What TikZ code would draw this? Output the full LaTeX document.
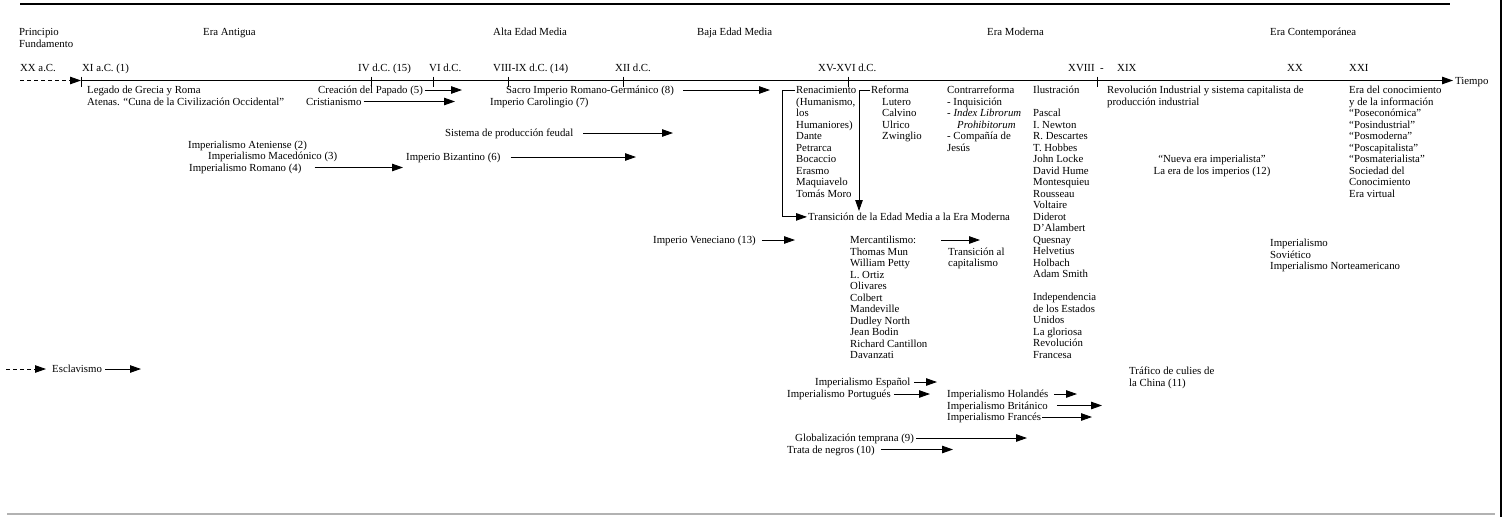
\documentclass[tikz,border=0pt]{standalone}
\usepackage{fontspec}
\setmainfont{Liberation Serif}
\usetikzlibrary{arrows.meta}
\newcommand{\fsz}{\fontsize{10.8}{11.5}\selectfont}
\begin{document}
\begin{tikzpicture}[x=1pt,y=-1pt,
  lbl/.style={anchor=base west, inner sep=0pt, font=\fsz},
  col/.style={anchor=north west, inner sep=0pt, align=left, font=\fsz},
  arr/.style={-{Triangle[length=11pt,width=7.5pt]}, line width=0.9pt},
  dsh/.style={arr, dash pattern=on 4pt off 3pt},
  tickmark/.style={line width=0.9pt}]
\useasboundingbox (0,0) rectangle (1504,517);
% frame lines
\draw[line width=1.4pt] (20,4) -- (1450,4);
\draw[line width=1.2pt] (1501,0) -- (1501,517);
\draw[line width=2pt, black!30] (7,514) -- (1495,514);

% eras
\node[col] (princ) at (19,27.55) {\strut Principio\\Fundamento};
\node[lbl] (eraAnt) at (203,35.6) {Era Antigua};
\node[lbl] (alta) at (493,35.6) {Alta Edad Media};
\node[lbl] (baja) at (697,35.6) {Baja Edad Media};
\node[lbl] (moder) at (987,35.6) {Era Moderna};
\node[lbl] (contemp) at (1270,35.6) {Era Contemporánea};

% dates
\node[lbl] (dXX) at (20,71.6) {XX a.C.};
\node[lbl] (dXI) at (82,71.6) {XI a.C. (1)};
\node[lbl] (dIV) at (358,71.6) {IV d.C. (15)};
\node[lbl] (dVI) at (429,71.6) {VI d.C.};
\node[lbl] (dVIII) at (493,71.6) {VIII-IX d.C. (14)};
\node[lbl] (dXII) at (615,71.6) {XII d.C.};
\node[lbl] (dXV) at (818,71.6) {XV-XVI d.C.};
\node[lbl] (dXVIII) at (1068,71.6) {XVIII};
\node[lbl] (dhyph) at (1100,71.6) {-};
\node[lbl] (dXIX) at (1117,71.6) {XIX};
\node[lbl] (dXXc) at (1287,71.6) {XX};
\node[lbl] (dXXI) at (1349,71.6) {XXI};

% timeline
\coordinate (ds) at (20,80.5);
\coordinate (t0) at (81,80.5);
\node[lbl] (tiempo) at (1455,84.5) {Tiempo};
\draw[dsh] (ds) -- (t0);
\draw[arr, line width=1pt, shorten >=2pt] (t0) -- (t0 -| tiempo.west);
\foreach \x in {81,371,433,508,623,848,1097}
  \draw[tickmark] (\x,76.5) -- (\x,87);

% left items
\node[col] (legado) at (87,85.55) {\strut Legado de Grecia y Roma\\Atenas. “Cuna de la Civilización Occidental”};
\node[lbl] (papado) at (318,93.6) {Creación del Papado (5)};
\coordinate (papadoE) at (462,90);
\draw[arr, shorten <=1.5pt] (papado.east |- papadoE) -- (papadoE);
\node[lbl] (crist) at (306,105.1) {Cristianismo};
\coordinate (cristE) at (455,101.5);
\draw[arr, shorten <=2pt] (crist.east |- cristE) -- (cristE);
\node[lbl] (sacro) at (506,93.6) {Sacro Imperio Romano-Germánico (8)};
\coordinate (sacroE) at (770,90);
\draw[arr, shorten <=9pt] (sacro.east |- sacroE) -- (sacroE);
\node[lbl] (carol) at (490,105.1) {Imperio Carolingio (7)};
\node[lbl] (feudal) at (445,136.6) {Sistema de producción feudal};
\coordinate (feudalE) at (673,133);
\draw[arr, shorten <=10pt] (feudal.east |- feudalE) -- (feudalE);
\node[lbl] (aten) at (188,148.1) {Imperialismo Ateniense (2)};
\node[lbl] (maced) at (208,159.6) {Imperialismo Macedónico (3)};
\node[lbl] (romano) at (189,171.1) {Imperialismo Romano (4)};
\coordinate (romanoE) at (403,167.5);
\draw[arr, shorten <=13pt] (romano.east |- romanoE) -- (romanoE);
\node[lbl] (bizan) at (406,160.6) {Imperio Bizantino (6)};
\coordinate (bizanE) at (636,157);
\draw[arr, shorten <=10pt] (bizan.east |- bizanE) -- (bizanE);

% Renacimiento / Reforma
\node[col] (ren) at (796,85.55) {\strut Renacimiento\\(Humanismo,\\los\\Humaniores)\\Dante\\Petrarca\\Bocaccio\\Erasmo\\Maquiavelo\\Tomás Moro};
\node[lbl] (trans) at (808,220.6) {Transición de la Edad Media a la Era Moderna};
\draw[arr, shorten >=1pt] ([xshift=-1pt,yshift=-4.45pt]ren.north west) -- ++(-13,0) |- (trans.west);
\node[col] (ref) at (871,85.55) {\strut Reforma\\\hspace*{11pt}Lutero\\\hspace*{11pt}Calvino\\\hspace*{11pt}Ulrico\\\hspace*{11pt}Zwinglio};
\coordinate (refE) at (859,211);
\draw[arr] ([xshift=-1pt,yshift=-4.45pt]ref.north west) -| (refE);
\node[col] (contra) at (947,85.55) {\strut Contrarreforma\\- Inquisición\\- \textit{Index Librorum}\\\hspace*{10pt}\textit{Prohibitorum}\\- Compañía de\\Jesús};
\node[col] (ilus) at (1033,85.55) {\strut Ilustración\\\mbox{}\\Pascal\\I. Newton\\R. Descartes\\T. Hobbes\\John Locke\\David Hume\\Montesquieu\\Rousseau\\Voltaire\\Diderot\\D’Alambert\\Quesnay\\Helvetius\\Holbach\\Adam Smith\\\mbox{}\\Independencia\\de los Estados\\Unidos\\La gloriosa\\Revolución\\Francesa};

% Veneciano / Mercantilismo
\node[lbl] (venec) at (653,243.6) {Imperio Veneciano (13)};
\coordinate (venecE) at (795,240);
\draw[arr, shorten <=6pt] (venec.east |- venecE) -- (venecE);
\node[col] (merc) at (850,235.55) {\strut Mercantilismo:\\Thomas Mun\\William Petty\\L. Ortiz\\Olivares\\Colbert\\Mandeville\\Dudley North\\Jean Bodin\\Richard Cantillon\\Davanzati};
\coordinate (mercA) at (941,240);
\coordinate (mercB) at (980,240);
\draw[arr] (mercA) -- (mercB);
\node[col] (transcap) at (948,247.05) {\strut Transición al\\capitalismo};

% bottom imperialisms
\node[lbl] (esp) at (815,385.6) {Imperialismo Español};
\coordinate (espE) at (937,382);
\draw[arr, shorten <=4pt] (esp.east |- espE) -- (espE);
\node[lbl] (port) at (787,397.6) {Imperialismo Portugués};
\coordinate (portE) at (930,394);
\draw[arr, shorten <=3pt] (port.east |- portE) -- (portE);
\node[lbl] (hol) at (947,397.6) {Imperialismo Holandés};
\coordinate (holE) at (1077,394);
\draw[arr, shorten <=6pt] (hol.east |- holE) -- (holE);
\node[lbl] (brit) at (947,409.1) {Imperialismo Británico};
\coordinate (britE) at (1102,405.5);
\draw[arr, shorten <=9pt] (brit.east |- britE) -- (britE);
\node[lbl] (fran) at (947,420.6) {Imperialismo Francés};
\coordinate (franE) at (1092,417);
\draw[arr, shorten <=1pt] (fran.east |- franE) -- (franE);
\node[lbl] (glob) at (795,441.6) {Globalización temprana (9)};
\coordinate (globE) at (1027,438);
\draw[arr, shorten <=2pt] (glob.east |- globE) -- (globE);
\node[lbl] (trata) at (787,453.1) {Trata de negros (10)};
\coordinate (trataE) at (953,449.5);
\draw[arr, shorten <=6pt] (trata.east |- trataE) -- (trataE);

% right side
\node[col] (revind) at (1107,85.55) {\strut Revolución Industrial y sistema capitalista de\\producción industrial};
\node[anchor=north, align=center, inner sep=0pt, font=\fsz] (nueva) at (1212,154.55) {\strut “Nueva era imperialista”\\La era de los imperios (12)};
\node[col] (eracon) at (1349,85.55) {\strut Era del conocimiento\\y de la información\\“Poseconómica”\\“Posindustrial”\\“Posmoderna”\\“Poscapitalista”\\“Posmaterialista”\\Sociedad del\\Conocimiento\\Era virtual};
\node[col] (sovi) at (1270,238.55) {\strut Imperialismo\\Soviético\\Imperialismo Norteamericano};
\node[col] (trafico) at (1129,366.55) {\strut Tráfico de culies de\\la China (11)};

% Esclavismo
\node[lbl] (escl) at (52,372.6) {Esclavismo};
\coordinate (esclS) at (6,369);
\coordinate (esclE) at (141,369);
\draw[dsh, shorten >=6pt] (esclS) -- (escl.west |- esclS);
\draw[arr, shorten <=3pt] (escl.east |- esclE) -- (esclE);
\end{tikzpicture}
\end{document}
